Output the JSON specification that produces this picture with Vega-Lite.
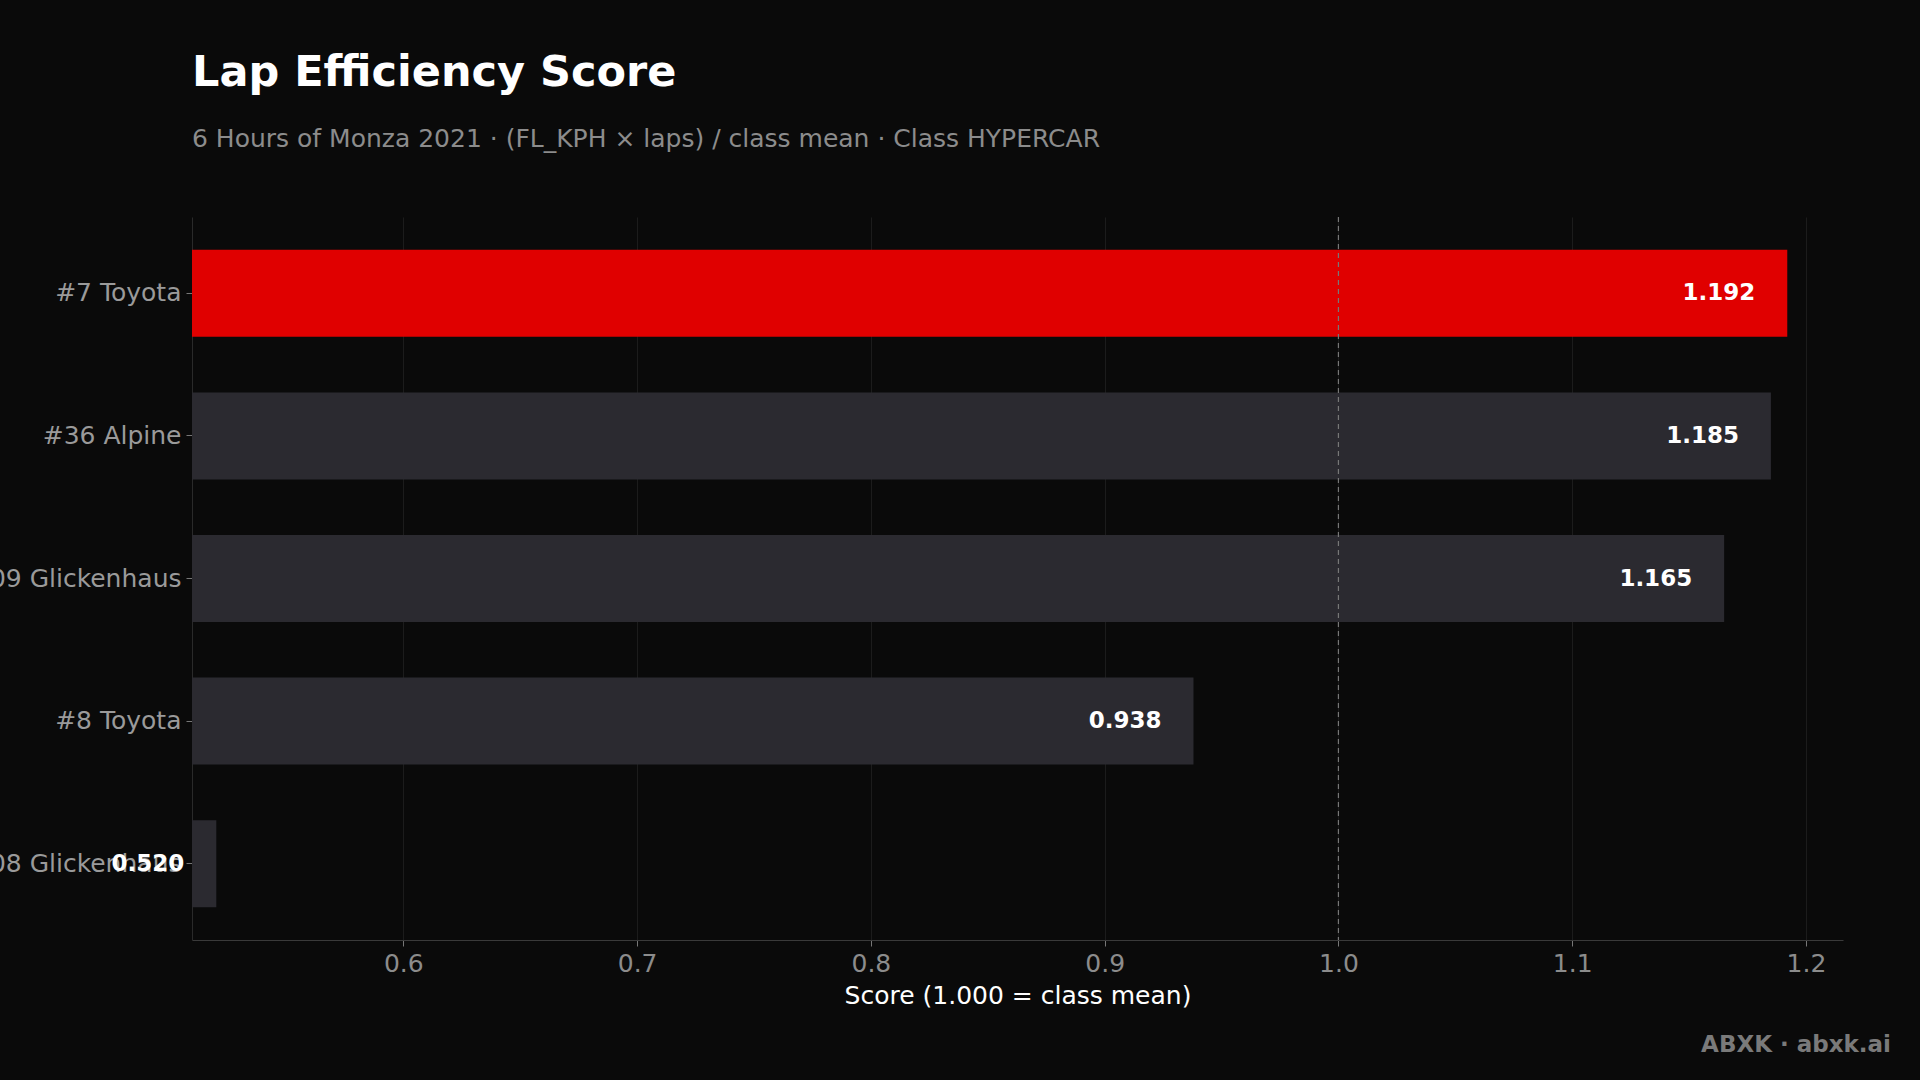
{
  "$schema": "https://vega.github.io/schema/vega-lite/v6.json",
  "autosize": {"type": "none"},
  "width": 1651,
  "height": 723,
  "padding": {"left": 192, "top": 217, "right": 77, "bottom": 140},
  "background": "#0a0a0a",
  "title": {
    "text": "Lap Efficiency Score",
    "subtitle": "6 Hours of Monza 2021 · (FL_KPH × laps) / class mean · Class HYPERCAR",
    "anchor": "start",
    "frame": "group",
    "font": "DejaVu Sans",
    "fontSize": 43,
    "fontWeight": "bold",
    "color": "#ffffff",
    "subtitleFont": "DejaVu Sans",
    "subtitleFontSize": 25,
    "subtitleColor": "#8c8c8c",
    "subtitlePadding": 32,
    "offset": 64
  },
  "datasets": {
    "cars": [
      {"car": "#7 Toyota", "score": 1.192},
      {"car": "#36 Alpine", "score": 1.185},
      {"car": "#709 Glickenhaus", "score": 1.165},
      {"car": "#8 Toyota", "score": 0.938},
      {"car": "#708 Glickenhaus", "score": 0.520}
    ],
    "footer": [{"t": "ABXK · abxk.ai"}],
    "ref": [{"v": 1.0}]
  },
  "data": {"name": "cars"},
  "encoding": {
    "y": {
      "field": "car",
      "type": "nominal",
      "sort": null,
      "scale": {"paddingInner": 0.39, "paddingOuter": 0.23},
      "axis": {
        "title": null,
        "labelFont": "DejaVu Sans",
        "labelFontSize": 25,
        "labelColor": "#9a9a9a",
        "labelPadding": 5,
        "labelLimit": 0,
        "tickColor": "#777777",
        "tickSize": 6,
        "domainColor": "#2a2a2a",
        "grid": false
      }
    }
  },
  "layer": [
    {
      "mark": {"type": "bar", "clip": true},
      "encoding": {
        "x": {
          "field": "score",
          "type": "quantitative",
          "scale": {"domain": [0.5096, 1.21584], "nice": false, "zero": false},
          "axis": {
            "values": [0.6, 0.7, 0.8, 0.9, 1.0, 1.1, 1.2],
            "labelExpr": "format(datum.value, '.1f')",
            "title": "Score (1.000 = class mean)",
            "titleFont": "DejaVu Sans",
            "titleFontSize": 25,
            "titleFontWeight": "normal",
            "titleColor": "#ffffff",
            "titlePadding": 7,
            "labelFont": "DejaVu Sans",
            "labelFontSize": 25,
            "labelColor": "#8c8c8c",
            "labelPadding": 5,
            "tickColor": "#777777",
            "tickSize": 6,
            "domainColor": "#3a3a3a",
            "grid": true,
            "gridColor": "#1c1c1c",
            "gridWidth": 1
          }
        },
        "color": {
          "condition": {"test": "datum.car == '#7 Toyota'", "value": "#e00000"},
          "value": "#2b2a30"
        }
      }
    },
    {
      "data": {"name": "ref"},
      "mark": {"type": "rule", "color": "#777777", "strokeDash": [5, 4], "strokeWidth": 1.2},
      "encoding": {
        "x": {"field": "v", "type": "quantitative"},
        "y": null
      }
    },
    {
      "mark": {
        "type": "text",
        "align": "right",
        "baseline": "middle",
        "dx": -32,
        "font": "DejaVu Sans",
        "fontSize": 23,
        "fontWeight": "bold",
        "color": "#ffffff"
      },
      "encoding": {
        "x": {"field": "score", "type": "quantitative"},
        "text": {"field": "score", "type": "quantitative", "format": ".3f"}
      }
    },
    {
      "data": {"name": "footer"},
      "mark": {
        "type": "text",
        "align": "right",
        "baseline": "alphabetic",
        "font": "DejaVu Sans",
        "fontSize": 23,
        "fontWeight": "bold",
        "color": "#7a7a7a"
      },
      "encoding": {
        "x": {"value": {"expr": "width + 48"}},
        "y": {"value": {"expr": "height + 112"}},
        "text": {"field": "t", "type": "nominal"}
      }
    }
  ],
  "config": {
    "view": {"stroke": null},
    "font": "DejaVu Sans"
  }
}
